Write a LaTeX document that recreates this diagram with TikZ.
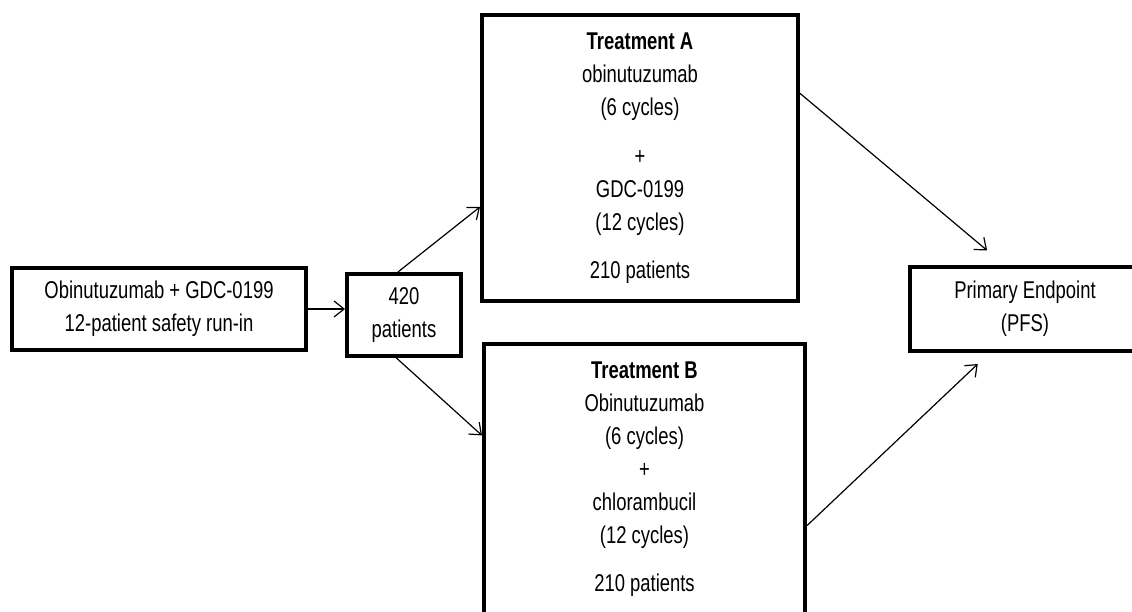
\documentclass[tikz,border=0pt]{standalone}
\usepackage{fontspec}
\setmainfont{Liberation Sans}[FakeStretch=0.76]
\usetikzlibrary{arrows.meta,calc}
\begin{document}
\begin{tikzpicture}[x=0.75pt,y=-0.75pt,
  box/.style={draw=black, line width=3pt, rectangle, inner sep=0pt, align=center,
    font=\fontsize{18.2}{24.75}\selectfont},
  arr/.style={-{Straight Barb[length=7.5pt,width=12pt]}, line width=0.9pt},
]
\useasboundingbox[fill=white] (0,0) rectangle (1132,611);
\node[box, minimum width=220.5pt, minimum height=61.5pt] (run) at (159,309)
  {Obinutuzumab + GDC-0199\\12-patient safety run-in};
\node[box, minimum width=85.5pt, minimum height=61.5pt] (pts) at (404,315)
  {420\\patients};
\node[box, minimum width=237pt, minimum height=214.5pt] (armA) at (640,158)
  {\textbf{Treatment A}\\obinutuzumab\\(6 cycles)\\[12pt]+\\GDC-0199\\(12 cycles)\\[11pt]210 patients};
\node[box, minimum width=240.75pt, minimum height=202.5pt] (armB) at (644.5,479)
  {\textbf{Treatment B}\\Obinutuzumab\\(6 cycles)\\+\\chlorambucil\\(12 cycles)\\[11pt]210 patients};
\node[box, minimum width=172.5pt, minimum height=63pt] (pe) at (1025,309)
  {Primary Endpoint\\(PFS)};
\draw[arr] (run.east) -- (run.east -| pts.west);
\draw[arr] (pts.98) -- (armA.197);
\draw[arr] (pts.260) -- (armB.165);
\draw[arr, shorten >=17pt] (armA.22.7) -- (pe.115);
\draw[arr, shorten >=12pt] (armB.344.7) -- (pe.231.6);
\end{tikzpicture}
\end{document}
